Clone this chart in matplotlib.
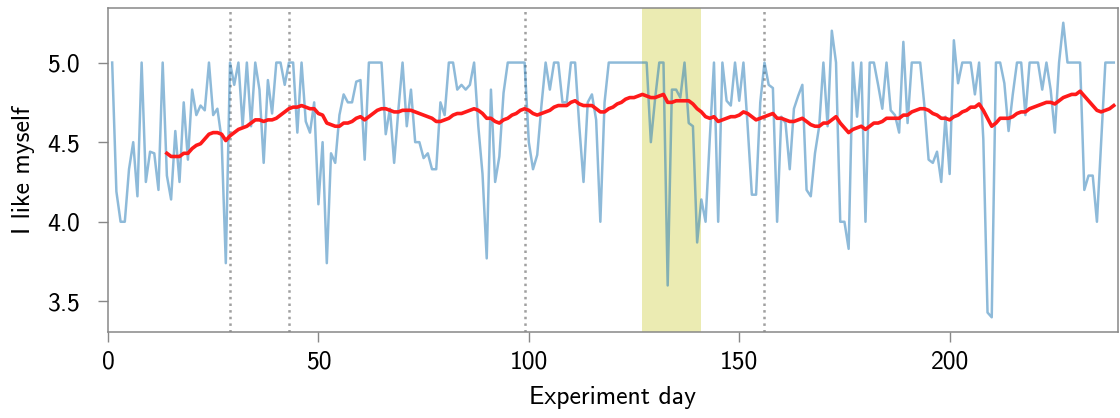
import numpy as np
import matplotlib
matplotlib.use("Agg")
import matplotlib.pyplot as plt

plt.rcParams['font.family'] = ['cmss10', 'DejaVu Sans']
plt.rcParams['axes.unicode_minus'] = False

# daily self-rating, days 1..239
ratings = [
    5.0, 4.19, 4.0, 4.0, 4.33, 4.5, 4.16, 5.0, 4.25, 4.44,        # 1-10
    4.43, 4.2, 5.0, 4.29, 4.14, 4.57, 4.25, 4.75, 4.39, 4.83,      # 11-20
    4.67, 4.73, 4.7, 5.0, 4.67, 4.71, 4.52, 3.74, 5.0, 4.86,       # 21-30
    5.0, 4.6, 5.0, 4.6, 5.0, 4.83, 4.37, 4.89, 4.68, 5.0,          # 31-40
    5.0, 4.86, 5.0, 5.0, 4.56, 5.0, 4.63, 4.56, 4.75, 4.11,        # 41-50
    4.5, 3.74, 4.43, 4.37, 4.67, 4.8, 4.75, 4.75, 4.88, 4.89,      # 51-60
    4.39, 5.0, 5.0, 5.0, 5.0, 4.55, 4.71, 4.37, 4.7, 5.0,          # 61-70
    4.6, 4.83, 4.5, 4.5, 4.4, 4.43, 4.33, 4.33, 4.75, 4.67,        # 71-80
    5.0, 5.0, 4.83, 4.86, 4.83, 4.86, 5.0, 4.6, 4.3, 3.77,         # 81-90
    4.83, 4.25, 4.41, 4.81, 5.0, 5.0, 5.0, 5.0, 5.0, 4.5,          # 91-100
    4.33, 4.42, 4.73, 5.0, 4.83, 5.0, 5.0, 4.75, 4.75, 5.0,        # 101-110
    5.0, 4.6, 4.25, 4.75, 4.8, 4.64, 4.0, 4.75, 5.0, 5.0,          # 111-120
    5.0, 5.0, 5.0, 5.0, 5.0, 5.0, 5.0, 5.0, 4.5, 4.77,             # 121-130
    5.0, 5.0, 3.6, 4.83, 4.83, 4.78, 5.0, 4.62, 4.6, 3.87,         # 131-140
    4.14, 4.0, 4.52, 5.0, 4.0, 5.0, 4.76, 4.73, 5.0, 4.76,         # 141-150
    5.0, 4.6, 4.17, 4.17, 4.75, 5.0, 4.86, 4.84, 4.0, 4.66,        # 151-160
    4.62, 4.33, 4.71, 4.79, 4.86, 4.2, 4.16, 4.43, 4.6, 5.0,       # 161-170
    4.6, 5.2, 5.0, 4.0, 4.0, 3.83, 5.0, 4.66, 5.0, 4.0,            # 171-180
    5.0, 5.0, 4.86, 4.71, 5.0, 4.7, 4.67, 4.56, 5.13, 4.62,        # 181-190
    5.0, 5.0, 5.0, 4.73, 4.39, 4.37, 4.44, 4.25, 4.66, 4.3,        # 191-200
    5.14, 4.87, 5.0, 5.0, 5.0, 4.8, 5.0, 4.52, 3.43, 3.4,          # 201-210
    5.0, 5.0, 4.87, 4.57, 4.8, 5.0, 5.0, 4.67, 5.0, 5.0,           # 211-220
    5.0, 4.83, 5.0, 4.83, 4.56, 5.0, 5.25, 5.0, 5.0, 5.0,          # 221-230
    5.0, 4.2, 4.29, 4.29, 4.0, 4.5, 5.0, 5.0, 5.0,                 # 231-239
]

# smoothed trend, days 14..239
trend = [
    4.43, 4.41, 4.41, 4.41, 4.43, 4.43, 4.46,                       # 14-20
    4.48, 4.49, 4.52, 4.55, 4.56, 4.56, 4.55, 4.51, 4.54, 4.56,    # 21-30
    4.58, 4.59, 4.6, 4.62, 4.64, 4.64, 4.63, 4.64, 4.64, 4.65,     # 31-40
    4.67, 4.69, 4.71, 4.72, 4.72, 4.73, 4.72, 4.71, 4.71, 4.68,    # 41-50
    4.67, 4.62, 4.61, 4.6, 4.6, 4.62, 4.62, 4.63, 4.65, 4.66,      # 51-60
    4.64, 4.66, 4.68, 4.7, 4.71, 4.71, 4.7, 4.69, 4.69, 4.7,       # 61-70
    4.7, 4.7, 4.69, 4.68, 4.67, 4.66, 4.65, 4.63, 4.63, 4.64,      # 71-80
    4.65, 4.67, 4.68, 4.68, 4.69, 4.7, 4.71, 4.7, 4.68, 4.65,      # 81-90
    4.65, 4.63, 4.62, 4.64, 4.65, 4.67, 4.68, 4.7, 4.71, 4.7,      # 91-100
    4.68, 4.67, 4.68, 4.69, 4.7, 4.72, 4.73, 4.73, 4.73, 4.75,     # 101-110
    4.76, 4.74, 4.73, 4.73, 4.73, 4.71, 4.69, 4.69, 4.71, 4.72,    # 111-120
    4.74, 4.75, 4.77, 4.78, 4.78, 4.79, 4.8, 4.79, 4.78, 4.78,     # 121-130
    4.79, 4.8, 4.75, 4.75, 4.76, 4.76, 4.76, 4.76, 4.74, 4.71,     # 131-140
    4.69, 4.66, 4.65, 4.66, 4.63, 4.64, 4.65, 4.66, 4.66, 4.67,    # 141-150
    4.69, 4.68, 4.66, 4.64, 4.65, 4.66, 4.67, 4.68, 4.65, 4.65,    # 151-160
    4.64, 4.63, 4.63, 4.64, 4.65, 4.63, 4.61, 4.6, 4.6, 4.62,      # 161-170
    4.62, 4.64, 4.66, 4.62, 4.59, 4.56, 4.58, 4.59, 4.6, 4.58,     # 171-180
    4.6, 4.62, 4.62, 4.63, 4.65, 4.65, 4.65, 4.65, 4.67, 4.67,     # 181-190
    4.69, 4.7, 4.71, 4.71, 4.7, 4.68, 4.67, 4.65, 4.65, 4.64,      # 191-200
    4.66, 4.67, 4.69, 4.7, 4.72, 4.72, 4.74, 4.7, 4.65, 4.6,       # 201-210
    4.62, 4.65, 4.65, 4.65, 4.66, 4.68, 4.69, 4.69, 4.71, 4.72,    # 211-220
    4.73, 4.74, 4.75, 4.75, 4.74, 4.76, 4.78, 4.79, 4.8, 4.8,      # 221-230
    4.82, 4.79, 4.76, 4.73, 4.7, 4.69, 4.7, 4.71, 4.73,            # 231-239
]

events = [29, 43, 99, 156]
highlight = (127, 141)

days = np.arange(1, len(ratings) + 1)
trend_days = np.arange(14, 14 + len(trend))

fig = plt.figure(figsize=(11.2, 4.18), dpi=100)
ax = fig.add_axes([0.0964, 0.2057, 0.9018, 0.7751])

ax.axvspan(highlight[0], highlight[1], color='y', alpha=0.3, lw=0, zorder=0)
for d in events:
    ax.axvline(d, color='#a0a0a0', ls=':', lw=1.8, zorder=1)

ax.plot(days, ratings, color='tab:blue', alpha=0.5, lw=1.8, zorder=2)
ax.plot(trend_days, trend, color='#ff1a1a', lw=2.6, zorder=3)

ax.set_xlim(0, 240)
ax.set_yticks([3.5, 4.0, 4.5, 5.0])
ax.set_xticks([0, 50, 100, 150, 200])
ax.set_xlabel("Experiment day", fontsize=18.5, labelpad=9)
ax.set_ylabel("I like myself", fontsize=18.5, labelpad=9)

for s in ax.spines.values():
    s.set_color('#888888')
    s.set_linewidth(1.1)
ax.tick_params(axis='x', labelsize=18.5, color='#888888', length=7, width=1, pad=6)
ax.tick_params(axis='y', labelsize=18.5, color='#888888', length=7, width=1, pad=13)

fig.savefig("out.png", dpi=100)
